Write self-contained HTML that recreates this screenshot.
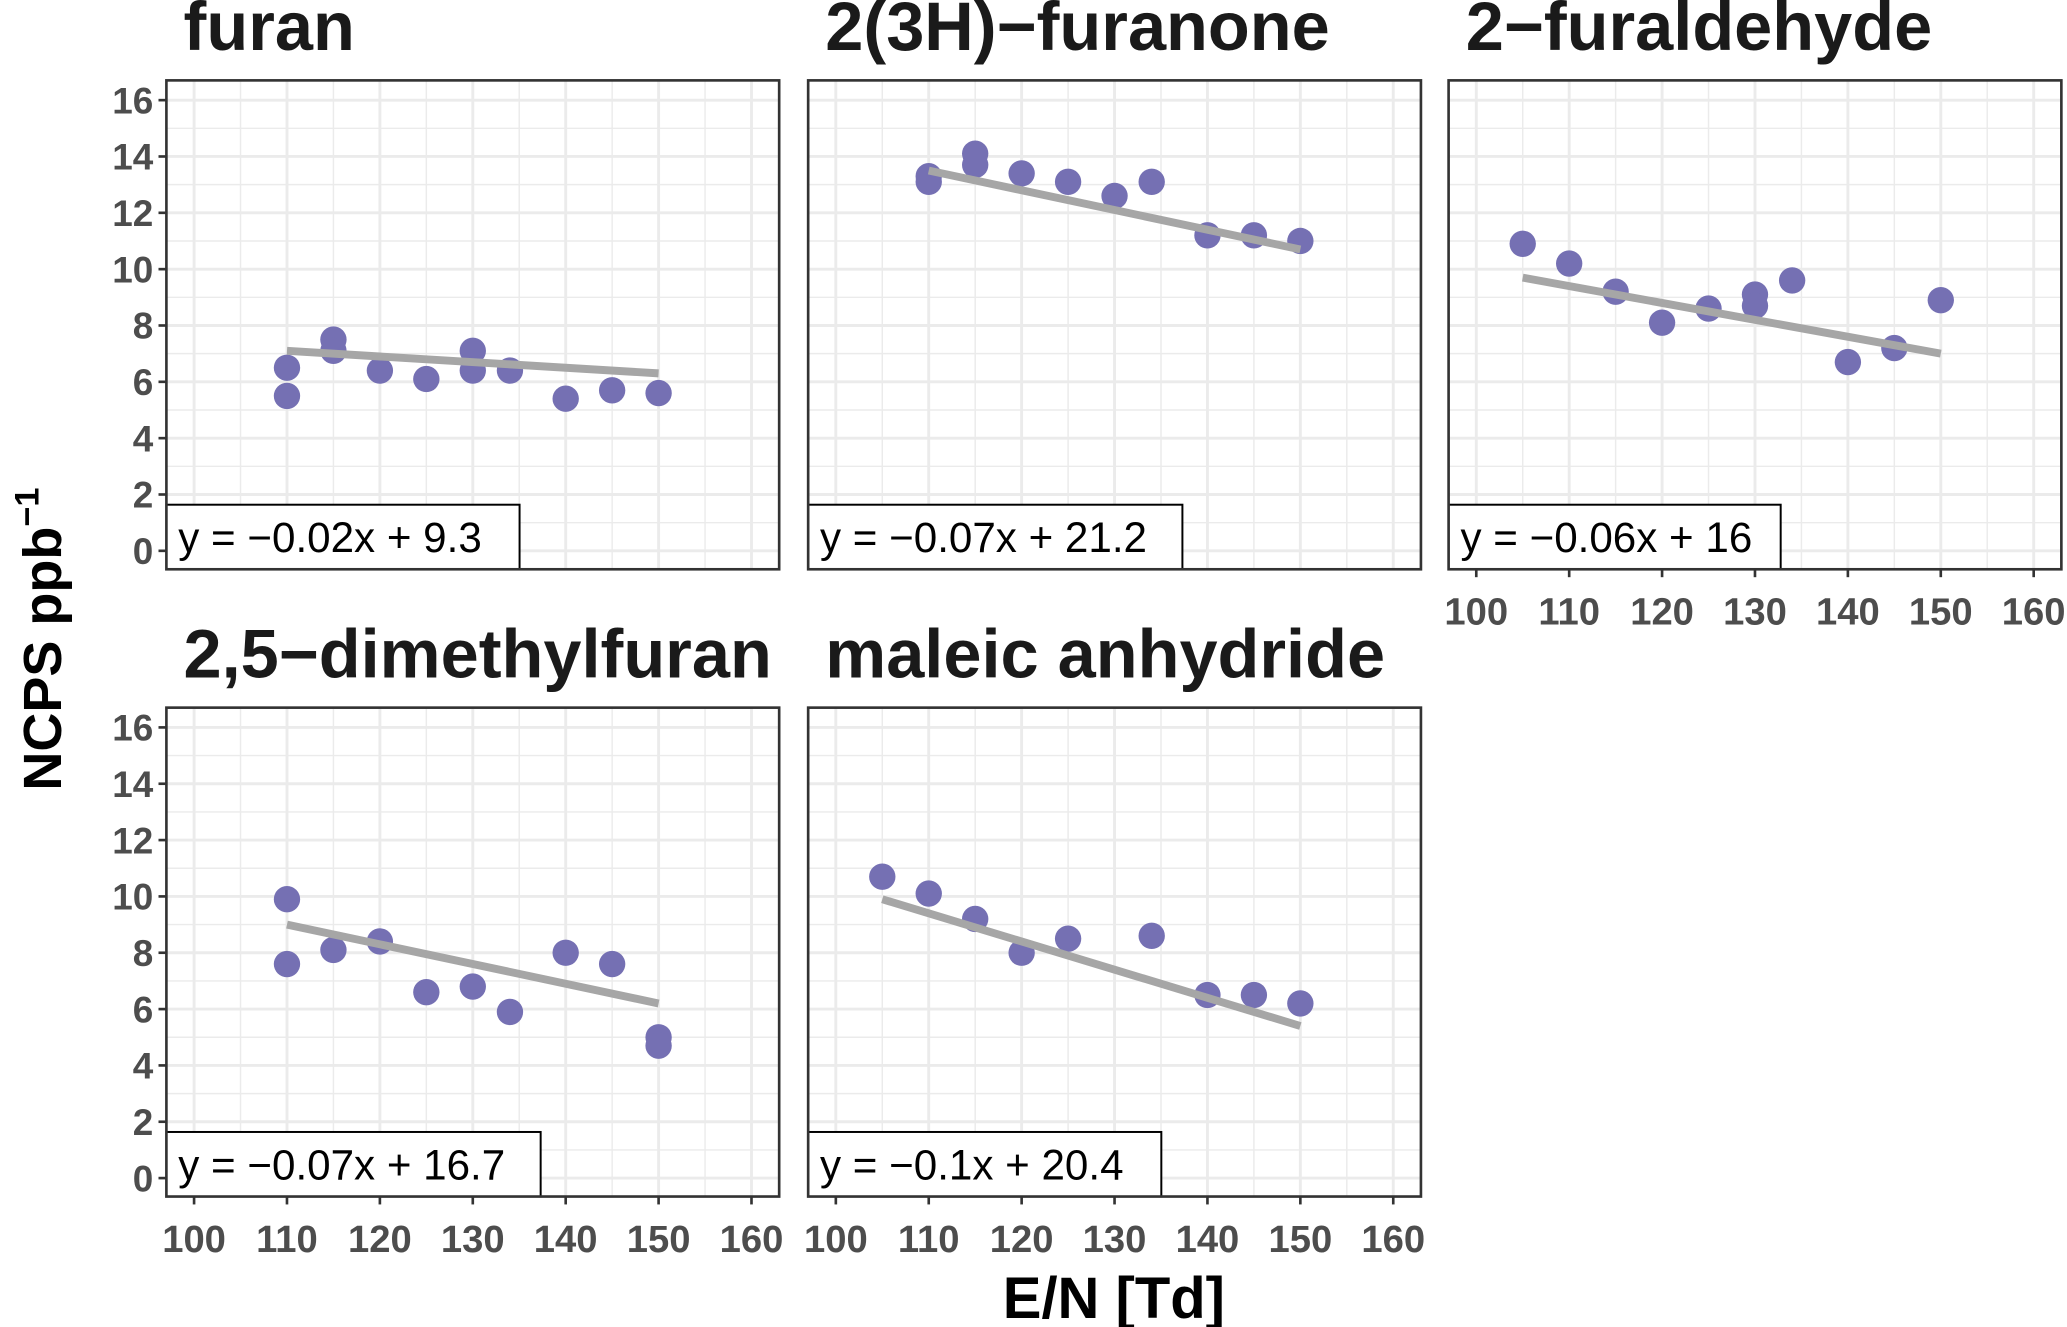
<!DOCTYPE html>
<html><head><meta charset="utf-8"><style>
html,body{margin:0;padding:0;background:#fff}
svg{display:block}
text{font-family:"Liberation Sans",Arial,sans-serif}
</style></head><body>
<svg id="chart" width="2067" height="1327" viewBox="0 0 1568 1007" xmlns="http://www.w3.org/2000/svg">
<text transform="translate(46,485) rotate(-90)" text-anchor="middle" font-size="41" font-weight="bold" fill="#000">NCPS ppb<tspan font-size="26" dy="-17">−1</tspan></text>
<text x="845" y="1000" text-anchor="middle" font-size="44" font-weight="bold" fill="#000">E/N [Td]</text>
</svg>
<script>
const titles = ["furan","2(3H)−furanone","2−furaldehyde","2,5−dimethylfuran","maleic anhydride"];
const equations = ["y = −0.02x + 9.3","y = −0.07x + 21.2","y = −0.06x + 16","y = −0.07x + 16.7","y = −0.1x + 20.4"];
const slopes = [-0.02,-0.07,-0.06,-0.07,-0.1];
const intercepts = [9.3,21.2,16,16.7,20.4];
const xs0 = [110,110,115,115,120,125,130,130,134,140,145,150];
const ys0 = [6.5,5.5,7.5,7.1,6.4,6.1,7.1,6.4,6.4,5.4,5.7,5.6];
const xs1 = [110,110,115,115,120,125,130,134,140,145,150];
const ys1 = [13.3,13.1,14.1,13.7,13.4,13.1,12.6,13.1,11.2,11.2,11.0];
const xs2 = [105,110,115,120,125,130,130,134,140,145,150];
const ys2 = [10.9,10.2,9.2,8.1,8.6,9.1,8.7,9.6,6.7,7.2,8.9];
const xs3 = [110,110,115,120,125,130,134,140,145,150,150];
const ys3 = [9.9,7.6,8.1,8.4,6.6,6.8,5.9,8.0,7.6,5.0,4.7];
const xs4 = [105,110,115,120,125,134,140,145,150];
const ys4 = [10.7,10.1,9.2,8.0,8.5,8.6,6.5,6.5,6.2];
const xTicks = [100,110,120,130,140,150,160];
const yTicks = [0,2,4,6,8,10,12,14,16];
const XS=[xs0,xs1,xs2,xs3,xs4], YS=[ys0,ys1,ys2,ys3,ys4];
const NS="http://www.w3.org/2000/svg";
const svg=document.getElementById('chart');
function mk(tag,attrs,parent){const e=document.createElementNS(NS,tag);for(const k in attrs)e.setAttribute(k,attrs[k]);(parent||svg).appendChild(e);return e;}
const panels=[{l:126,t:61},{l:613,t:61},{l:1099,t:61},{l:126,t:537},{l:613,t:537}];
const W=465,H=371;
panels.forEach((p,i)=>{
  const g=mk('g',{});
  
  
  const x=v=>p.l+21+(v-100)*(423/60);
  const y=v=>p.t+357-v*(342/16);
  for(let v=95;v<=165;v+=5){const X=x(v);if(X<p.l||X>p.l+W)continue;
    const ln=mk('line',{x1:X,x2:X,y1:p.t,y2:p.t+H,stroke:'#ebebeb','stroke-width':v%10==0?2.2:1.1},g);
    }
  for(let v=-1;v<=17;v+=1){const Y=y(v);if(Y<p.t||Y>p.t+H)continue;
    const ln=mk('line',{x1:p.l,x2:p.l+W,y1:Y,y2:Y,stroke:'#ebebeb','stroke-width':v%2==0?2.2:1.1},g);
    }
  const t=mk('text',{x:p.l+13,y:p.t-23,'font-size':52,'font-weight':'bold',fill:'#1a1a1a'},g);
  t.textContent=titles[i];
  
  XS[i].forEach((xv,j)=>{const c=mk('circle',{cx:x(xv),cy:y(YS[i][j]),r:10,fill:'#7570b3'},g);
    });
  const xmin=Math.min(...XS[i]),xmax=Math.max(...XS[i]);
  const fl=mk('line',{x1:x(xmin),x2:x(xmax),y1:y(slopes[i]*xmin+intercepts[i]),y2:y(slopes[i]*xmax+intercepts[i]),stroke:'#a6a6a6','stroke-width':6},g);
  
  const bw=equations[i].length*16+12;
  const bx=mk('rect',{x:p.l,y:p.t+H-49,width:bw,height:49,fill:'#fff',stroke:'#000','stroke-width':1.5},g);
  
  const et=mk('text',{x:p.l+9,y:p.t+H-13,'font-size':32,fill:'#000'},g);
  et.textContent=equations[i];
  
  const br=mk('rect',{x:p.l,y:p.t,width:W,height:H,fill:'none',stroke:'#333','stroke-width':2},g);
  
  if(p.l===126){yTicks.forEach(v=>{
    const tk=mk('line',{x1:p.l-6,x2:p.l,y1:y(v),y2:y(v),stroke:'#333','stroke-width':2},g);
    
    const tl=mk('text',{x:p.l-10,y:y(v)+10,'text-anchor':'end','font-size':28,'font-weight':'bold',fill:'#4d4d4d'},g);
    tl.textContent=v;});}
  if(i>=2){xTicks.forEach(v=>{
    const tk=mk('line',{x1:x(v),x2:x(v),y1:p.t+H,y2:p.t+H+6,stroke:'#333','stroke-width':2},g);
    
    const tl=mk('text',{x:x(v),y:p.t+H+42,'text-anchor':'middle','font-size':29,'font-weight':'bold',fill:'#4d4d4d'},g);
    tl.textContent=v;});}
});
</script>
</body></html>
